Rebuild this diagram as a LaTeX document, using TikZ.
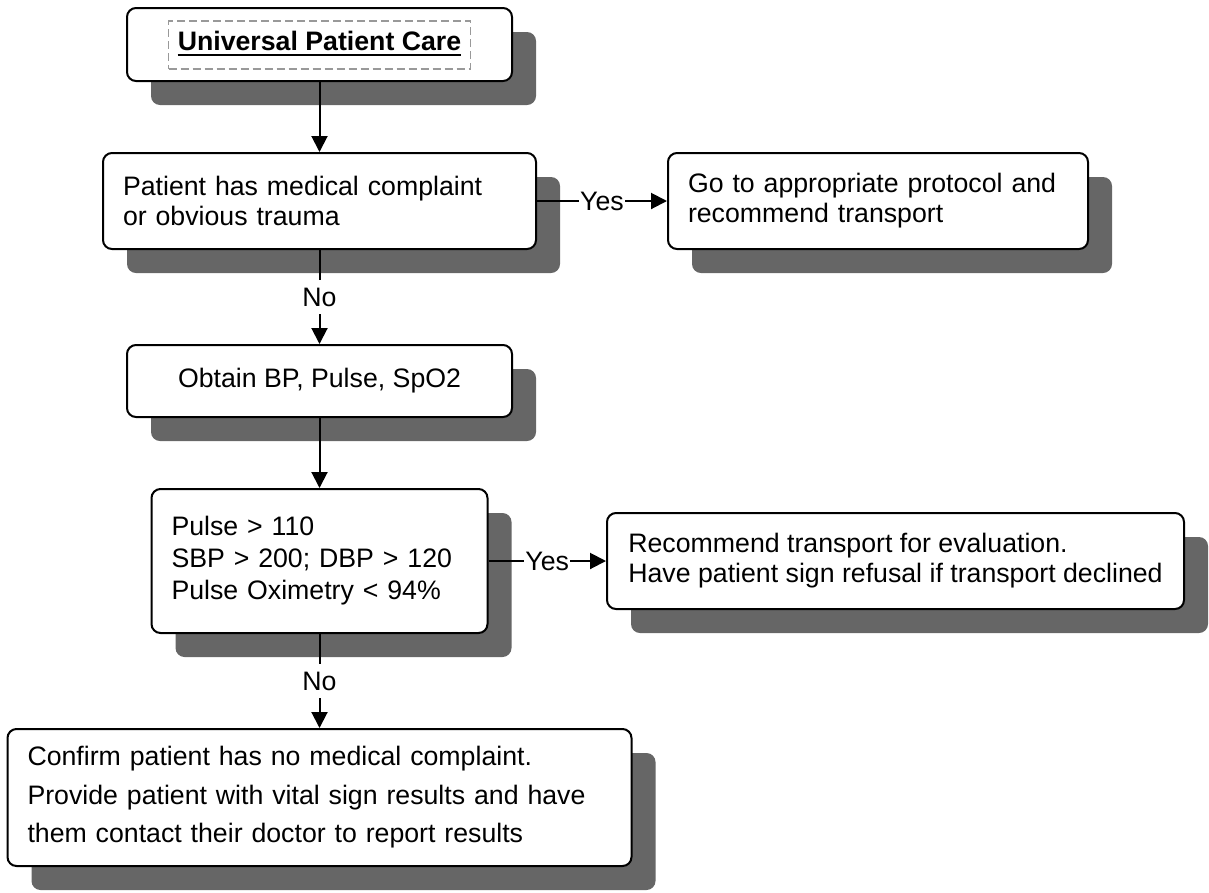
\documentclass[tikz,border=0pt]{standalone}
\usepackage{fontspec}
\setmainfont{Liberation Sans}
\usetikzlibrary{arrows.meta,shadows}
\definecolor{shadowgray}{HTML}{666666}
\definecolor{dashgray}{HTML}{999999}
\begin{document}
\begin{tikzpicture}[x=1pt,y=-1pt,
  basefont/.style={font=\fontsize{26.7}{30}\selectfont},
  box/.style={draw=black, line width=2pt, rounded corners=9pt, fill=white,
    drop shadow={shadow xshift=24pt, shadow yshift=-24pt, fill=shadowgray, opacity=1},
    inner xsep=20pt, inner ysep=0pt, basefont, align=left},
  conn/.style={line width=2pt, -{Triangle[length=16pt,width=16pt]}},
  lab/.style={fill=white, inner xsep=1pt, inner ysep=8pt, basefont},
  dashbox/.style={draw=dashgray, line width=1.5pt, dash pattern=on 8pt off 4pt, inner sep=0pt}
]
\useasboundingbox (0,0) rectangle (1209,892);

% Boxes
\node[box, minimum width=385pt, minimum height=73pt] (b1) at (319.5,44.5) {};
\node[dashbox, minimum width=302pt, minimum height=48pt] (tframe) at (319.5,45) {};
\node[font=\fontsize{26.7}{30}\selectfont\bfseries, inner sep=0pt, anchor=base] (title) at (319.5,50) {Universal Patient Care};
\draw[line width=2.2pt] ([yshift=-5pt]title.base west) -- ([yshift=-5pt]title.base east);

\node[box, text width=393pt, minimum height=96pt] (b2) at (319.5,201)
  {Patient has medical complaint\\or obvious trauma};
\node[box, text width=380pt, minimum height=96pt] (b3) at (878,201)
  {Go to appropriate protocol and\\recommend transport};
\node[box, align=center, minimum width=385pt, minimum height=72pt] (b4) at (319.5,381)
  {Obtain BP, Pulse, SpO2};
\node[box, font=\fontsize{26.7}{32}\selectfont, text width=296pt, minimum height=144pt] (b5) at (319.5,561)
  {Pulse > 110\\SBP > 200; DBP > 120\\Pulse Oximetry < 94\%};
\node[box, inner xsep=0pt, minimum width=577pt, minimum height=96pt] (b6) at (895.5,561)
  {Recommend transport for evaluation.\\Have patient sign refusal if transport declined};
\node[box, font=\fontsize{26.7}{38.5}\selectfont, text width=584pt, minimum height=137pt] (b7) at (319.5,797.5)
  {Confirm patient has no medical complaint.\\Provide patient with vital sign results and have\\them contact their doctor to report results};

% Connectors
\draw[conn] (b1.south) -- (b2.north);
\draw[conn] (b2.east) -- node[lab] {Yes} (b3.west);
\draw[conn] (b2.south) -- node[lab] {No} (b4.north);
\draw[conn] (b4.south) -- (b5.north);
\draw[conn] (b5.east) -- node[lab] {Yes} (b6.west);
\draw[conn] (b5.south) -- node[lab] {No} (b7.north);
\end{tikzpicture}
\end{document}
